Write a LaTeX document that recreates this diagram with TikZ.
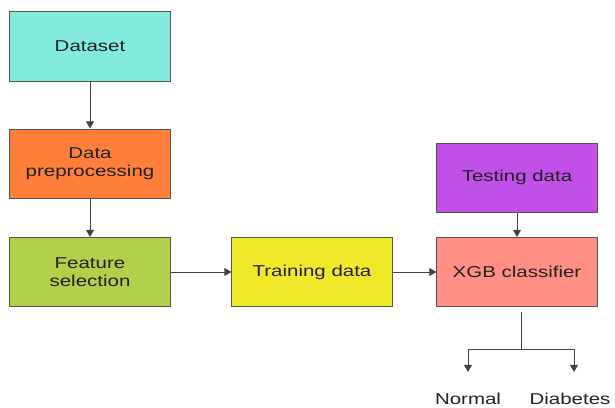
\documentclass[tikz,border=0pt]{standalone}
\usepackage{fontspec}
\newfontfamily\flowfont[FakeStretch=1.3]{Liberation Sans}
\usetikzlibrary{arrows.meta, positioning}

\definecolor{cdata}{HTML}{82EBDC}
\definecolor{cprep}{HTML}{FF7F3A}
\definecolor{cfeat}{HTML}{B2D04A}
\definecolor{ctrain}{HTML}{F0E92A}
\definecolor{ctest}{HTML}{C050E8}
\definecolor{cxgb}{HTML}{FF8F85}
\definecolor{cedge}{HTML}{555555}
\definecolor{ctext}{HTML}{222222}

\tikzset{
  stage/.style = {
    draw=cedge, line width=0.7pt, minimum width=4cm, minimum height=1.725cm,
    inner sep=0pt, align=center, text=ctext,
    font=\flowfont\fontsize{11.2}{12.8}\selectfont
  },
  outcome/.style = {
    inner sep=0pt, text=ctext, font=\flowfont\fontsize{11.2}{12.8}\selectfont
  },
  flow/.style = {
    draw=ctext!85, line width=0.7pt, -{Triangle[length=5pt, width=5.5pt]}
  }
}

\begin{document}
\begin{tikzpicture}[x=0.025cm, y=-0.025cm]

    \useasboundingbox (0,0) rectangle (615,407);

    % Pipeline boxes
    \node[stage, fill=cdata] (dataset) at (90,46.5) {Dataset};
    \node[stage, fill=cprep] (preproc) at (90,163.5) {Data\\preprocessing};
    \node[stage, fill=cfeat] (feature) at (90,272) {Feature\\selection};
    \node[stage, fill=ctrain] (train) at (312,272) {Training data};
    \node[stage, fill=ctest] (test) at (517,177.5) {Testing data};
    \node[stage, fill=cxgb] (xgb) at (517,272) {XGB classifier};

    % Outputs
    \node[outcome] (normal) at (468,399) {Normal};
    \node[outcome] (diabetes) at (570,399) {Diabetes};
    \coordinate (trunk) at (521,312);
    \coordinate (split) at (521,349);
    \coordinate (normaltip) at (468,372);
    \coordinate (diabetestip) at (574,372);

    % Arrows
    \draw[flow] (dataset) -- (preproc);
    \draw[flow] (preproc) -- (feature);
    \draw[flow] (feature) -- (train);
    \draw[flow] (train) -- (xgb);
    \draw[flow] (test) -- (xgb);

    % Split into classes
    \draw[draw=ctext!85, line width=0.7pt] (trunk) -- (split);
    \draw[flow] (split) -| (normaltip);
    \draw[flow] (split) -| (diabetestip);

\end{tikzpicture}
\end{document}
